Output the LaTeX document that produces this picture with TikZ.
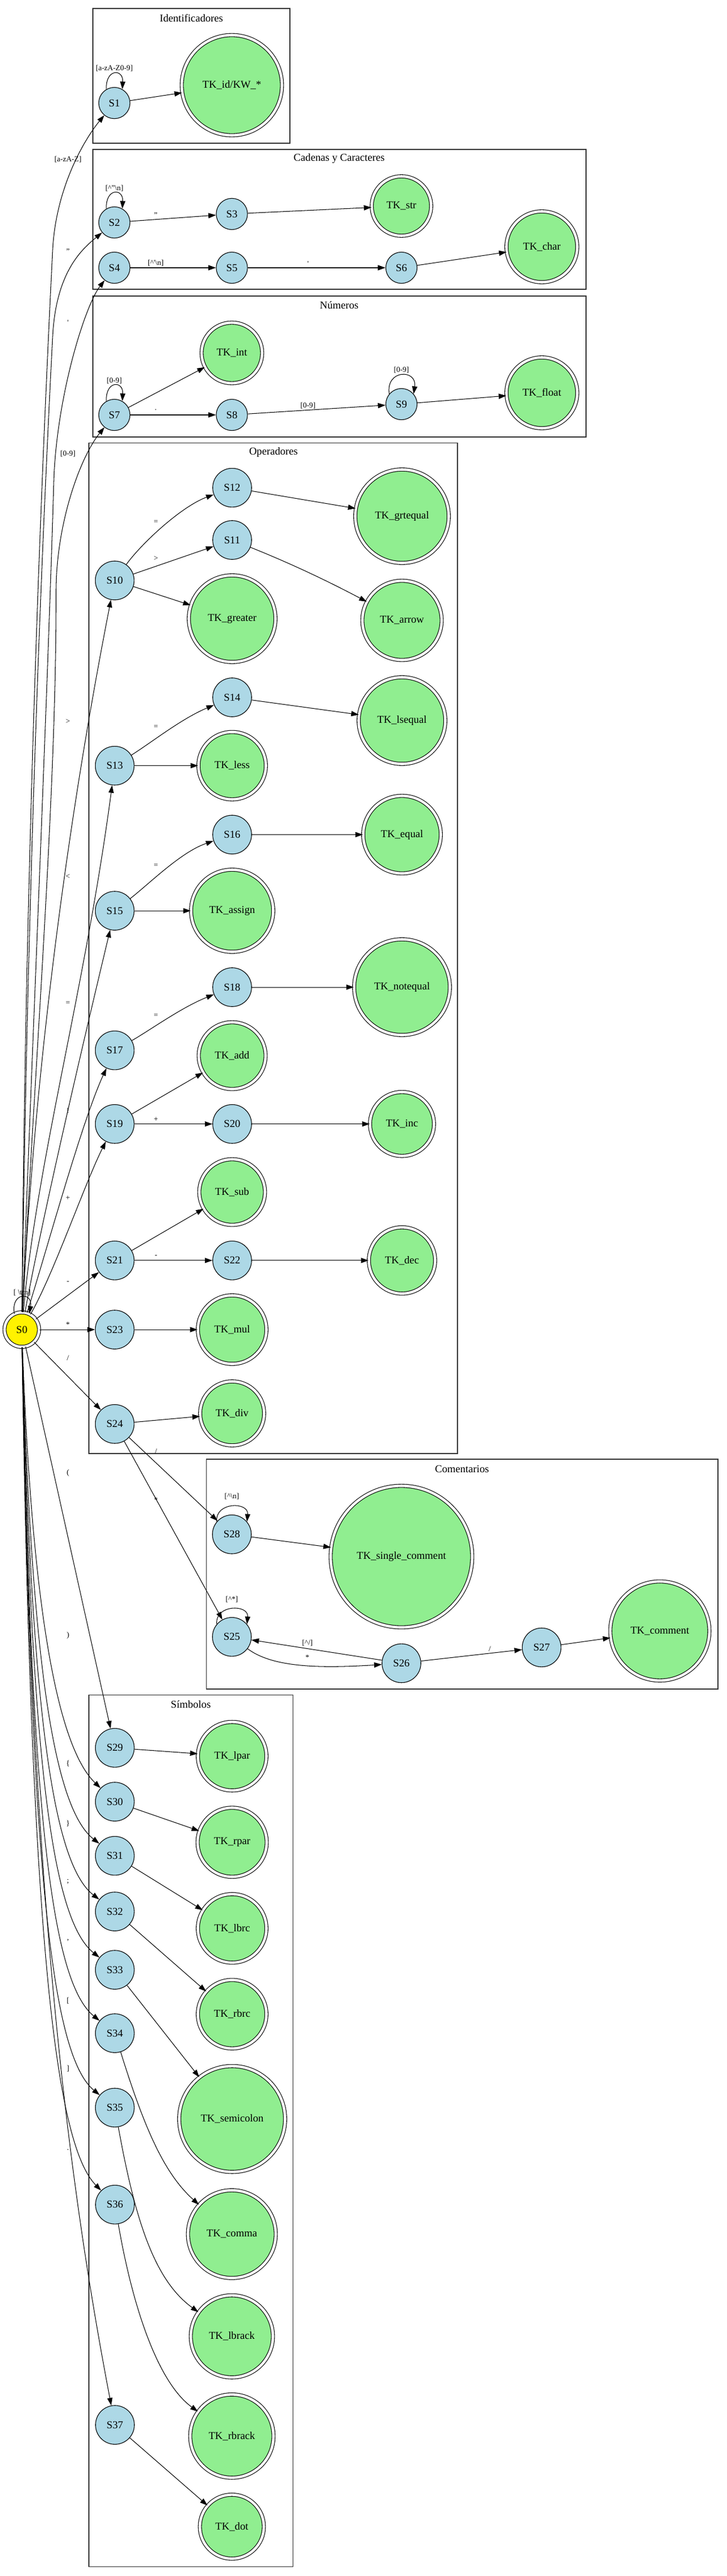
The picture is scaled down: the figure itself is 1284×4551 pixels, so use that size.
\documentclass[tikz,border=0pt]{standalone}
\usepackage{fontspec}
\setmainfont{Liberation Serif}
\usetikzlibrary{arrows.meta}
\definecolor{lblue}{HTML}{ADD8E6}
\definecolor{lgreen}{HTML}{90EE90}
\begin{document}
\begin{tikzpicture}[x=0.5pt,y=-0.5pt,
  st2/.style={circle, draw, fill=lblue, line width=0.55pt, inner sep=0pt, minimum size=27.6pt, font=\fontsize{9.33}{11}\selectfont},
  st3/.style={circle, draw, fill=lblue, line width=0.55pt, inner sep=0pt, minimum size=34.3pt, font=\fontsize{9.33}{11}\selectfont},
  acc/.style={circle, draw, double, double distance=2.3pt, fill=lgreen, line width=0.55pt, inner sep=0pt, minimum size=#1pt, font=\fontsize{9.33}{11}\selectfont},
  edg/.style={-{Triangle[length=6.7pt,width=4.6pt]}, line width=0.52pt},
  lbl/.style={font=\fontsize{6.67}{8}\selectfont, inner sep=0pt},
  clus/.style={draw=black!80, line width=0.55pt},
  ctitle/.style={font=\fontsize{9.33}{11}\selectfont, inner sep=0pt}]
\useasboundingbox (0,0) rectangle (1284,4551);
\fill[white] (0,0) rectangle (1284,4551);

% clusters
\draw[clus] (164,15) rectangle (512,253);
\node[ctitle] (tIdent) at (338,32) {Identificadores};
\draw[clus] (164,264) rectangle (1035,511);
\node[ctitle] (tCad) at (599,280) {Cadenas y Caracteres};
\draw[clus] (164,523) rectangle (1035,772);
\node[ctitle] (tNum) at (599,539) {Números};
\draw[clus] (157,782.5) rectangle (808,2568);
\node[ctitle] (tOp) at (483,799) {Operadores};
\draw[clus] (364.4,2578) rectangle (1268,2984);
\node[ctitle] (tCom) at (816,2595) {Comentarios};
\draw[clus] (157,2994.7) rectangle (517.5,4534);
\node[ctitle] (tSim) at (337,3011) {Símbolos};

% nodes
\node[acc=30.5, fill=yellow] (S0) at (38.5,2349) {S0};
\node[st2] (S1) at (202,182) {S1};
\node[acc=88.5] (TKid) at (409.5,150.5) {TK\_id/KW\_*};
\node[st2] (S2) at (202,393) {S2};
\node[st2] (S3) at (409.5,378) {S3};
\node[acc=52.5] (TKstr) at (709,364) {TK\_str};
\node[st2] (S4) at (202,473) {S4};
\node[st2] (S5) at (409.5,473) {S5};
\node[st2] (S6) at (709,473) {S6};
\node[acc=62.5] (TKchar) at (957,436) {TK\_char};
\node[acc=53.5] (TKint) at (409.5,623.5) {TK\_int};
\node[st2] (S7) at (202,733) {S7};
\node[st2] (S8) at (409.5,733) {S8};
\node[st2] (S9) at (709,714) {S9};
\node[acc=62.5] (TKfloat) at (957,694) {TK\_float};
\node[st3] (S10) at (202.6,1025.5) {S10};
\node[st3] (S12) at (410,861.6) {S12};
\node[st3] (S11) at (410,954) {S11};
\node[acc=76.5] (TKgreater) at (410,1093) {TK\_greater};
\node[acc=82.5] (TKgrtequal) at (710,912) {TK\_grtequal};
\node[acc=70] (TKarrow) at (710,1096) {TK\_arrow};
\node[st3] (S14) at (410,1232) {S14};
\node[acc=76.5] (TKlsequal) at (710,1273) {TK\_lsequal};
\node[st3] (S13) at (202.6,1352.7) {S13};
\node[acc=59.5] (TKless) at (410,1352.7) {TK\_less};
\node[st3] (S16) at (410,1474.5) {S16};
\node[acc=68.5] (TKequal) at (710,1474.5) {TK\_equal};
\node[st3] (S15) at (202.6,1609) {S15};
\node[acc=72.5] (TKassign) at (410,1609) {TK\_assign};
\node[st3] (S18) at (410,1744) {S18};
\node[acc=84.5] (TKnotequal) at (710,1744) {TK\_notequal};
\node[st3] (S17) at (202.6,1855.6) {S17};
\node[acc=59] (TKadd) at (410,1865) {TK\_add};
\node[st3] (S19) at (202.6,1985.7) {S19};
\node[st3] (S20) at (410,1985.7) {S20};
\node[acc=56.5] (TKinc) at (710,1985.7) {TK\_inc};
\node[acc=58] (TKsub) at (410,2106) {TK\_sub};
\node[st3] (S21) at (202.6,2226.8) {S21};
\node[st3] (S22) at (410,2226.8) {S22};
\node[acc=58.5] (TKdec) at (710,2226.8) {TK\_dec};
\node[st3] (S23) at (202.6,2349) {S23};
\node[acc=60.5] (TKmul) at (410,2349) {TK\_mul};
\node[st3] (S24) at (202.6,2515.7) {S24};
\node[acc=56.5] (TKdiv) at (410,2497) {TK\_div};
\node[st3] (S28) at (409.5,2710.7) {S28};
\node[acc=125] (TKsc) at (709,2750) {TK\_single\_comment};
\node[st3] (S25) at (409.5,2891.8) {S25};
\node[st3] (S26) at (709,2938.4) {S26};
\node[st3] (S27) at (956.6,2910.5) {S27};
\node[acc=87.5] (TKcomment) at (1165.4,2881.4) {TK\_comment};
\node[st3] (S29) at (202.8,3087.8) {S29};
\node[acc=60.5] (TKlpar) at (410,3102.6) {TK\_lpar};
\node[st3] (S30) at (202.8,3183) {S30};
\node[acc=61] (TKrpar) at (410,3254.7) {TK\_rpar};
\node[st3] (S31) at (202.8,3278.6) {S31};
\node[acc=60.5] (TKlbrc) at (410,3406.8) {TK\_lbrc};
\node[st3] (S32) at (202.8,3377) {S32};
\node[st3] (S33) at (202.8,3480) {S33};
\node[acc=60.5] (TKrbrc) at (410,3558.4) {TK\_rbrc};
\node[st3] (S34) at (202.8,3592) {S34};
\node[acc=93.5] (TKsemi) at (410,3743.6) {TK\_semicolon};
\node[st3] (S35) at (202.8,3723.5) {S35};
\node[st3] (S36) at (203,3894.8) {S36};
\node[acc=77.5] (TKcomma) at (409.5,3947) {TK\_comma};
\node[acc=72.5] (TKlbrack) at (409.5,4127.6) {TK\_lbrack};
\node[st3] (S37) at (203,4284) {S37};
\node[acc=73.5] (TKrbrack) at (409.5,4303.8) {TK\_rbrack};
\node[acc=56.5] (TKdot) at (409.5,4463.8) {TK\_dot};

% self loops
\draw[edg] (S0.115) .. controls (18.5,2282) and (58.5,2282) .. (S0.65) node[lbl] (lS0) at (39,2284) {[\ \textbackslash t\textbackslash n]};
\draw[edg] (S1.120) .. controls (186,121) and (218,121) .. (S1.60) node[lbl] (lS1) at (202,121) {[a-zA-Z0-9]};
\draw[edg] (S2.120) .. controls (186,332) and (218,332) .. (S2.60) node[lbl] (lS2) at (202,333) {[\textasciicircum"\textbackslash n]};
\draw[edg] (S7.120) .. controls (186,672) and (218,672) .. (S7.60) node[lbl] (lS7) at (202,673) {[0-9]};
\draw[edg] (S9.140) .. controls (681,652) and (737,652) .. (S9.40) node[lbl] (lS9) at (709,654) {[0-9]};
\draw[edg] (S28.140) .. controls (379.5,2652.9) and (439.5,2652.9) .. (S28.40) node[lbl] (lS28) at (409.5,2644) {[\textasciicircum\textbackslash n]};
\draw[edg] (S25.140) .. controls (379.5,2834) and (439.5,2834) .. (S25.40) node[lbl] (lS25) at (409.5,2825.5) {[\textasciicircum*]};

% identifiers, strings, numbers
\draw[edg] (S1) -- (TKid);
\draw[edg] (S2) -- (S3) node[lbl] (l23) at (275,380) {"};
\draw[edg] (S3) -- (TKstr);
\draw[edg] (S4) -- (S5) node[lbl] (l45) at (275,465) {[\textasciicircum\textquotesingle\textbackslash n]};
\draw[edg] (S5) -- (S6) node[lbl] (l56) at (544,466) {\textquotesingle};
\draw[edg] (S6) -- (TKchar);
\draw[edg] (S7) -- (TKint);
\draw[edg] (S7) -- (S8) node[lbl] (l78) at (275,724) {.};
\draw[edg] (S8) -- (S9) node[lbl] (l89) at (544,717) {[0-9]};
\draw[edg] (S9) -- (TKfloat);

% operators
\draw[edg] (S10) .. controls (250,960) and (320,895) .. (S12) node[lbl] (l1012) at (275.5,922) {=};
\draw[edg] (S10) -- (S11) node[lbl] (l1011) at (275.5,987) {>};
\draw[edg] (S10) -- (TKgreater);
\draw[edg] (S12) -- (TKgrtequal);
\draw[edg] (S11) .. controls (510,994) and (576,1025) .. (TKarrow);
\draw[edg] (S13) .. controls (270,1310) and (320,1270) .. (S14) node[lbl] (l1314) at (275.5,1284) {=};
\draw[edg] (S13) -- (TKless);
\draw[edg] (S14) -- (TKlsequal);
\draw[edg] (S15) .. controls (265,1560) and (320,1505) .. (S16) node[lbl] (l1516) at (275.5,1529) {=};
\draw[edg] (S15) -- (TKassign);
\draw[edg] (S16) -- (TKequal);
\draw[edg] (S17) .. controls (265,1820) and (320,1780) .. (S18) node[lbl] (l1718) at (275.5,1794) {=};
\draw[edg] (S18) -- (TKnotequal);
\draw[edg] (S19) -- (TKadd);
\draw[edg] (S19) -- (S20) node[lbl] (l1920) at (275.5,1978) {+};
\draw[edg] (S20) -- (TKinc);
\draw[edg] (S21) -- (TKsub);
\draw[edg] (S21) -- (S22) node[lbl] (l2122) at (275.5,2220) {-};
\draw[edg] (S22) -- (TKdec);
\draw[edg] (S23) -- (TKmul);
\draw[edg] (S24) -- (TKdiv);

% comments
\draw[edg] (S24) -- (S28) node[lbl] (l2428) at (275.5,2564) {/};
\draw[edg] (S24) -- (S25) node[lbl] (l2425) at (275.5,2650) {*};
\draw[edg] (S28) -- (TKsc);
\draw[edg] (S25) .. controls (480,2945) and (560,2948) .. (S26) node[lbl] (l2526) at (543,2928) {*};
\draw[edg] (S26) -- (S25) node[lbl] (l2625) at (543,2903) {[\textasciicircum/]};
\draw[edg] (S26) -- (S27) node[lbl] (l2627) at (865,2913.6) {/};
\draw[edg] (S27) -- (TKcomment);

% symbols
\draw[edg] (S29) -- (TKlpar);
\draw[edg] (S30) -- (TKrpar);
\draw[edg] (S31) -- (TKlbrc);
\draw[edg] (S32) -- (TKrbrc);
\draw[edg] (S33) -- (TKsemi);
\draw[edg] (S34) .. controls (255,3760) and (290,3840) .. (TKcomma);
\draw[edg] (S35) .. controls (240,3930) and (275,4030) .. (TKlbrack);
\draw[edg] (S36) .. controls (235,4080) and (280,4210) .. (TKrbrack);
\draw[edg] (S37) -- (TKdot);

% edges from S0 (upwards)
\draw[edg] (S0) .. controls (45,1500) and (75,800) .. (93,441) .. controls (99,330) and (150,245) .. (S1) node[lbl] (l01) at (120,282) {[a-zA-Z]};
\draw[edg] (S0) .. controls (48,1600) and (72,1000) .. (93,594) .. controls (99,480) and (145,440) .. (S2) node[lbl] (l02) at (120,444) {"};
\draw[edg] (S0) .. controls (55,1900) and (85,1200) .. (95,850) .. controls (100,700) and (150,540) .. (S4) node[lbl] (l04) at (120,570) {\textquotesingle};
\draw[edg] (S0) .. controls (60,1900) and (100,1400) .. (99,1050) .. controls (98,930) and (140,810) .. (S7) node[lbl] (l07) at (120,802) {[0-9]};
\draw[edg] (S0) .. controls (55,2000) and (100,1550) .. (S10) node[lbl] (l010) at (120,1275) {>};
\draw[edg] (S0) .. controls (65,2050) and (150,1750) .. (S13) node[lbl] (l013) at (120,1548.5) {<};
\draw[edg] (S0) .. controls (75,2150) and (145,1850) .. (S15) node[lbl] (l015) at (120,1772) {=};
\draw[edg] (S0) .. controls (85,2200) and (145,1980) .. (S17) node[lbl] (l017) at (120,1962) {!};
\draw[edg] (S0) .. controls (95,2250) and (150,2090) .. (S19) node[lbl] (l019) at (120,2116.5) {+};
\draw[edg] (S0) -- (S21) node[lbl] (l021) at (120,2266) {-};
\draw[edg] (S0) -- (S23) node[lbl] (l023) at (120,2340) {*};
\draw[edg] (S0) -- (S24) node[lbl] (l024) at (120,2399.6) {/};

% edges from S0 (downwards)
\draw[edg] (S0) -- (S29) node[lbl] (l029) at (120,2602) {(};
\draw[edg] (S0) .. controls (55,2800) and (95,3080) .. (S30) node[lbl] (l030) at (120,2889) {)};
\draw[edg] (S0) .. controls (55,2900) and (90,3190) .. (S31) node[lbl] (l031) at (120,3115.5) {\{};
\draw[edg] (S0) .. controls (55,3000) and (90,3290) .. (S32) node[lbl] (l032) at (120,3222) {\}};
\draw[edg] (S0) .. controls (55,3100) and (90,3390) .. (S33) node[lbl] (l033) at (120,3324.5) {;};
\draw[edg] (S0) .. controls (55,3200) and (90,3500) .. (S34) node[lbl] (l034) at (120,3428) {,};
\draw[edg] (S0) .. controls (55,3300) and (90,3630) .. (S35) node[lbl] (l035) at (120,3534.5) {[};
\draw[edg] (S0) .. controls (55,3450) and (100,3790) .. (S36) node[lbl] (l036) at (120,3654.6) {]};
\draw[edg] (S0) .. controls (55,3400) and (130,3900) .. (S37) node[lbl] (l037) at (120,3798) {.};
\end{tikzpicture}
\end{document}
